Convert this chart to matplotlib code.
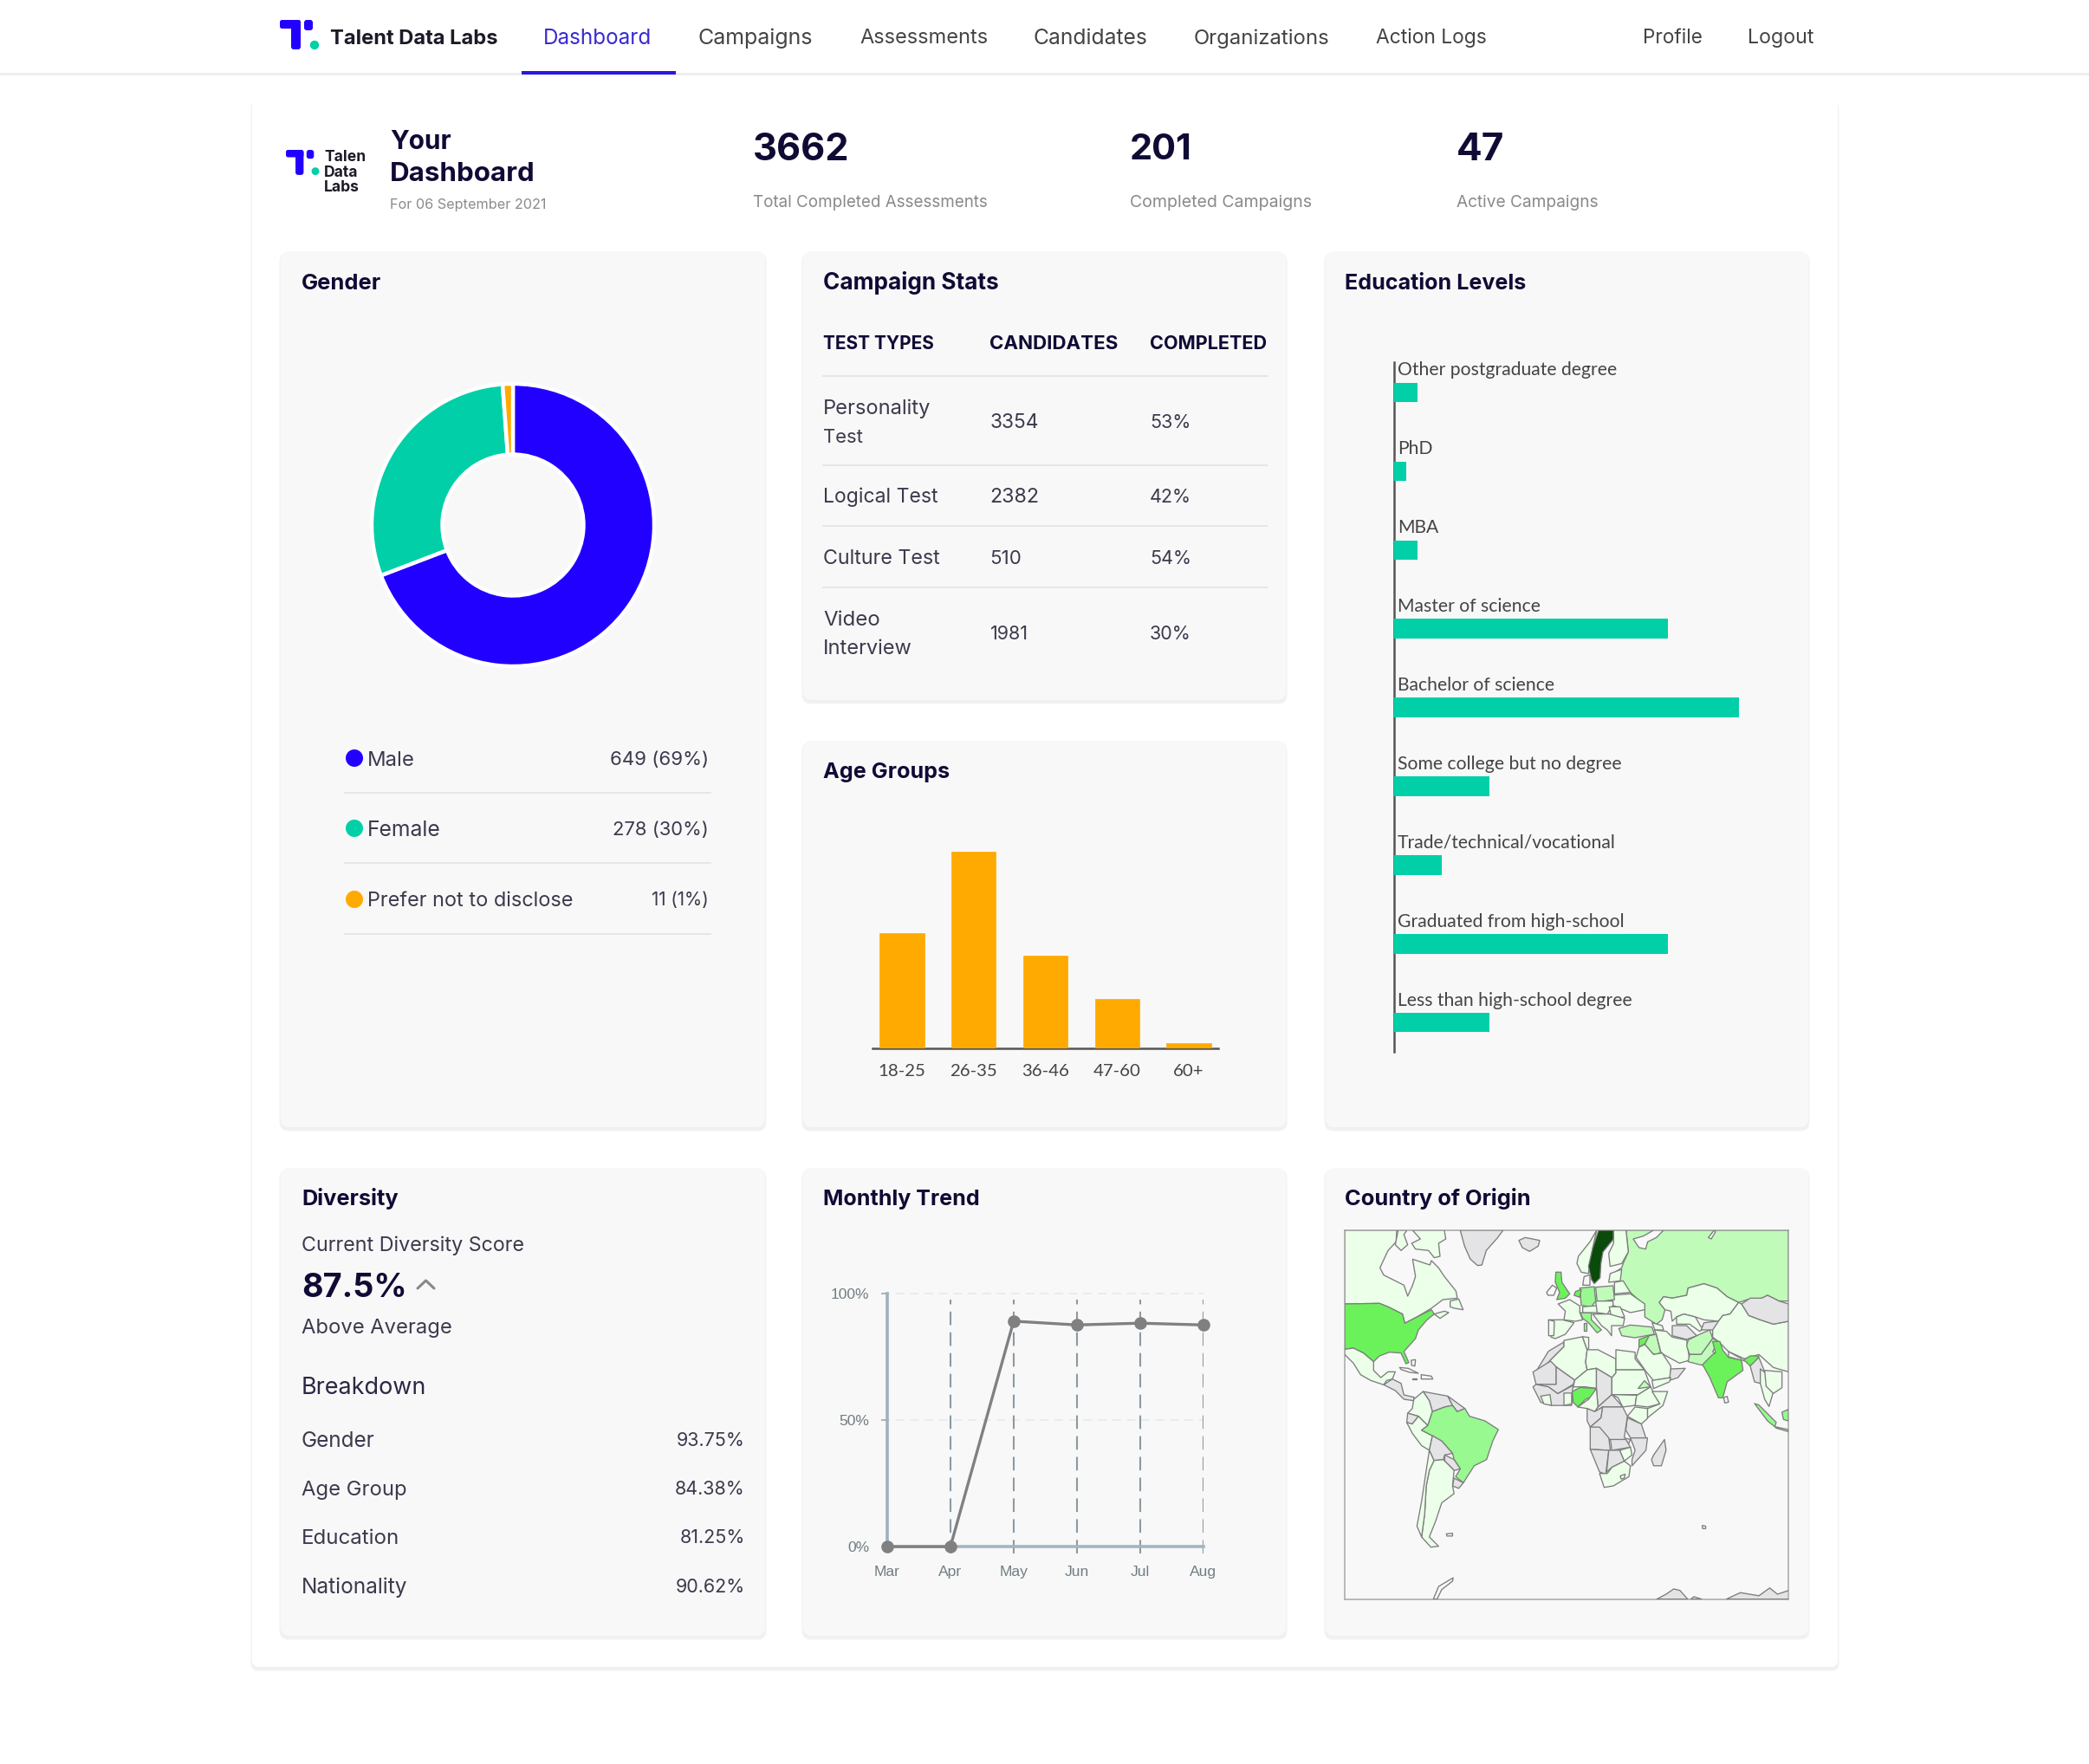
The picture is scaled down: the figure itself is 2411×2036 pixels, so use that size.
import matplotlib
matplotlib.use('Agg')
import matplotlib.pyplot as plt
from matplotlib.patches import FancyBboxPatch, Circle, Polygon, Rectangle

W, H = 2411, 2036
UI = ['Inter', 'Open Sans', 'DejaVu Sans']
GILL = ['Lato', 'DejaVu Sans']
INK = '#100b35'
BODY = '#3b3a4d'
MUTED = '#8a8a8a'
BLUE = '#2200ff'
TEAL = '#00cfa8'
ORANGE = '#ffaa00'
PANEL = '#f8f8f8'

# ---------- data ----------
nav_items = ['Campaigns', 'Assessments', 'Candidates', 'Organizations', 'Action Logs', 'Profile', 'Logout']
nav_x = [806, 992, 1193, 1378, 1588, 1896, 2017]
nav_w = [134, 149, 132, 158, 129, 69, 77]

kpi_values = ['3662', '201', '47']
kpi_labels = ['Total Completed Assessments', 'Completed Campaigns', 'Active Campaigns']

gender_labels = ['Male', 'Female', 'Prefer not to disclose']
gender_values = [649, 278, 11]
gender_text = ['649 (69%)', '278 (30%)', '11 (1%)']
gender_colors = [BLUE, TEAL, ORANGE]

table_header = ['TEST TYPES', 'CANDIDATES', 'COMPLETED']
table_tests = [['Personality', 'Test'], ['Logical Test'], ['Culture Test'], ['Video', 'Interview']]
table_candidates = ['3354', '2382', '510', '1981']
table_completed = ['53%', '42%', '54%', '30%']

age_groups = ['18-25', '26-35', '36-46', '47-60', '60+']
age_counts = [21, 36, 17, 9, 1]

edu_levels = ['Other postgraduate degree', 'PhD', 'MBA', 'Master of science', 'Bachelor of science',
              'Some college but no degree', 'Trade/technical/vocational', 'Graduated from high-school',
              'Less than high-school degree']
edu_counts = [2, 1, 2, 23, 29, 8, 4, 23, 8]

diversity_names = ['Gender', 'Age Group', 'Education', 'Nationality']
diversity_scores = ['93.75%', '84.38%', '81.25%', '90.62%']

months = ['Mar', 'Apr', 'May', 'Jun', 'Jul', 'Aug']
monthly_pct = [0, 0, 89, 87.5, 88.2, 87.5]

# ---------- map outlines (three tracing frames) ----------
LIGHT, PALE, MIDL, STRONG, DARK, GREY, SEA = '#ebffe9', '#c0fbb9', '#97f98f', '#6bf25b', '#0a4a0a', '#e4e4e6', PANEL

# frame A: west
canada = [(0,0),(180,0),(178,40),(150,70),(122,130),(135,155),(205,190),(218,228),(235,190),(245,160),(235,100),(295,120),(300,105),(325,130),(345,160),(385,210),(390,235),(340,240),(300,270),(250,300),(208,322),(200,290),(150,265),(120,253),(0,255)]
baffin = [(235,0),(345,0),(350,30),(325,45),(330,90),(310,95),(290,70),(245,65),(232,45),(262,30)]
arctic_isl = [(185,0),(215,0),(205,15),(218,50),(195,70),(175,50)]
newfoundland = [(365,245),(395,238),(410,275),(380,270),(365,265)]
nova_scotia = [(310,290),(345,280),(360,285),(330,305)]
greenland = [(400,0),(548,0),(530,25),(490,70),(475,120),(460,122),(435,100),(415,55)]
iceland = [(603,35),(625,25),(675,35),(670,55),(640,73),(615,60)]
usa = [(0,255),(120,253),(150,265),(200,290),(208,322),(250,300),(300,275),(310,290),(285,310),(255,345),(245,375),(218,405),(205,420),(222,458),(212,462),(195,425),(155,422),(120,435),(100,455),(65,425),(30,408),(0,412)]
mexico = [(0,412),(30,408),(65,425),(100,455),(100,485),(125,510),(150,490),(175,490),(165,515),(145,520),(135,535),(90,520),(55,500),(30,460),(0,430)]
central_am = [(135,535),(165,515),(195,530),(205,570),(240,578),(238,590),(205,585),(175,555),(145,540)]
cuba = [(190,475),(220,478),(255,495),(225,492),(195,482)]
hispaniola = [(265,500),(300,505),(305,515),(265,515)]
jamaica = [(235,512),(250,512),(250,517),(235,517)]
bahamas = [(230,450),(245,448),(243,470),(232,468)]

# frame B: east
norway = [(188,0),(175,60),(163,125),(160,150),(135,145),(120,115),(125,90),(165,40)]
sweden = [(195,0),(247,0),(247,30),(210,75),(203,115),(200,165),(180,185),(170,170),(160,125),(175,60)]
finland = [(247,0),(290,0),(298,75),(275,115),(235,125),(230,80),(247,45)]
russia = [(290,0),(852,0),(852,245),(820,245),(780,225),(760,235),(710,240),(680,250),(640,230),(605,200),(560,185),(505,200),(500,225),(450,235),(420,230),(405,250),(425,275),(415,310),(395,325),(355,300),(355,260),(310,220),(270,175),(245,150),(275,130),(280,115),(298,75)]
white_sea = [(315,30),(350,20),(385,0),(420,0),(395,25),(365,40),(358,65),(335,60)]
novaya = [(575,25),(595,0),(600,5),(585,30)]
baltics = [(235,150),(275,135),(270,175),(230,180)]
belarus = [(250,180),(280,175),(305,215),(250,220)]
ukraine = [(240,225),(305,220),(355,255),(355,275),(305,285),(245,260)]
poland = [(185,197),(245,192),(250,240),(190,248)]
germany = [(130,200),(180,195),(185,245),(170,265),(135,260)]
benelux = [(115,212),(135,205),(130,232),(110,225)]
denmark = [(145,160),(165,155),(165,190),(140,190)]
uk = [(47,145),(65,145),(68,180),(95,220),(80,235),(50,240),(60,215),(45,180)]
ireland = [(15,215),(35,190),(50,200),(40,225),(20,225)]
france = [(55,255),(95,240),(130,262),(130,285),(140,310),(115,315),(75,310),(80,280)]
spain = [(22,310),(70,310),(110,320),(80,360),(45,375),(30,370)]
portugal = [(22,310),(42,315),(40,365),(22,365)]
italy = [(132,285),(170,285),(170,310),(205,345),(190,355),(160,320),(140,305)]
sardinia = [(145,320),(152,320),(152,348),(145,348)]
alpine = [(140,265),(200,260),(205,285),(140,285)]
czech_hun = [(185,245),(245,245),(245,260),(225,290),(190,285)]
romania = [(232,265),(270,265),(285,300),(240,305)]
balkans = [(175,290),(232,290),(285,305),(280,330),(240,330),(240,365),(225,345),(205,330)]
turkey = [(265,340),(305,328),(380,335),(388,360),(320,372),(275,365)]
caucasus = [(380,320),(415,330),(420,345),(390,345)]
syria = [(335,378),(370,365),(360,390),(335,405)]
iraq = [(370,365),(395,360),(410,425),(385,430),(355,395)]
iran = [(388,345),(430,350),(450,370),(500,380),(510,450),(475,460),(420,430),(410,420),(395,360)]
saudi = [(335,405),(355,395),(385,430),(415,425),(445,470),(445,510),(385,520),(360,490),(325,440)]
oman = [(445,480),(495,478),(470,510),(440,520)]
yemen = [(380,520),(445,510),(440,525),(385,548)]
kazakhstan = [(405,250),(420,230),(450,235),(500,225),(505,200),(560,185),(605,200),(640,230),(680,250),(650,290),(625,295),(610,315),(560,310),(530,300),(490,290),(465,300),(450,315),(445,280),(425,275)]
turkmenistan = [(450,330),(500,330),(535,365),(500,378),(450,365)]
uzbekistan = [(465,300),(490,290),(530,300),(550,335),(580,325),(545,350),(510,325),(465,325)]
tajik_kyrgyz = [(560,320),(630,312),(590,345),(550,345)]
afghanistan = [(505,380),(545,360),(580,345),(590,375),(565,410),(550,430),(510,430),(500,400)]
pakistan = [(510,430),(550,430),(590,375),(610,385),(590,420),(600,430),(565,470),(505,455)]
china = [(680,250),(690,255),(715,295),(755,310),(800,325),(852,315),(852,490),(800,475),(750,430),(700,445),(645,420),(610,385),(590,370),(590,345),(610,315),(625,295),(650,290)]
mongolia = [(690,255),(720,235),(760,235),(780,225),(820,245),(852,255),(852,315),(800,325),(755,310),(715,295)]
india = [(590,385),(615,385),(625,415),(645,440),(690,450),(695,485),(660,510),(640,525),(625,580),(610,580),(580,510),(555,465),(590,430),(600,425)]
sri_lanka = [(628,580),(640,575),(645,595),(632,598)]
nepal = [(645,420),(690,445),(690,450),(645,438)]
bangladesh = [(695,450),(720,435),(750,435),(740,455),(720,470),(705,455)]
myanmar = [(720,470),(750,440),(770,490),(755,530),(735,525)]
thailand = [(755,480),(780,500),(800,560),(785,610),(770,585),(755,530)]
indochina = [(770,485),(830,490),(830,545),(800,565),(775,540)]
sumatra = [(735,600),(750,605),(810,665),(805,680),(780,660)]
java = [(805,680),(852,690),(852,697),(810,685)]
borneo = [(830,630),(852,620),(852,660),(835,655)]

# frame C: south
morocco = [(680,680),(720,615),(770,585),(770,600),(725,645),(690,680)]
mauritania = [(670,682),(730,645),(745,665),(745,722),(680,722)]
mali = [(745,665),(805,708),(800,722),(750,752),(720,730),(680,722),(745,722)]
algeria = [(725,645),(770,600),(770,580),(830,568),(845,610),(840,650),(845,675),(805,708),(745,665)]
tunisia = [(830,568),(850,570),(850,605),(845,610)]
libya = [(845,610),(880,610),(938,640),(938,685),(925,700),(875,670),(845,675),(840,650)]
egypt = [(938,610),(1000,618),(1000,640),(1030,675),(938,675)]
niger = [(805,708),(845,675),(875,670),(875,735),(840,730),(800,730)]
chad = [(875,670),(925,700),(925,755),(880,795),(875,735)]
sudan = [(938,675),(1030,675),(1050,730),(1010,755),(925,755),(925,700),(938,685)]
s_sudan = [(925,755),(1005,757),(1000,790),(960,795),(945,765)]
ethiopia = [(1010,755),(1050,730),(1080,785),(1040,795),(1000,790),(1005,757)]
somalia = [(1055,745),(1105,745),(1090,790),(1040,830),(1040,800),(1080,785)]
kenya = [(1000,795),(1040,800),(1040,832),(1020,850),(975,825)]
tanzania = [(975,830),(1020,850),(1035,895),(985,895),(970,870)]
eritrea = [(1010,735),(1030,710),(1050,730)]
nigeria = [(797,745),(822,732),(872,735),(865,760),(840,770),(815,795),(800,780)]
west_africa = [(680,722),(720,730),(750,752),(800,725),(797,745),(795,790),(730,790),(695,780),(670,730)]
guinea = [(695,760),(725,755),(730,790),(705,785)]
ghana = [(770,750),(795,750),(795,785),(770,790)]
cameroon = [(815,795),(850,770),(875,735),(880,795),(870,810),(845,800)]
car = [(880,795),(925,755),(960,795),(895,795),(870,810)]
gabon = [(845,800),(870,810),(895,795),(890,830),(855,860),(845,840)]
drc = [(895,795),(960,795),(975,825),(965,895),(985,900),(970,935),(920,900),(860,890),(855,860),(890,830)]
angola = [(855,860),(885,860),(915,895),(920,935),(855,932)]
zambia = [(920,900),(970,900),(985,925),(925,935)]
mozambique = [(985,895),(1040,895),(1035,935),(990,985),(990,965),(1000,935)]
zimbabwe = [(950,935),(985,925),(990,950),(965,970)]
namibia = [(855,932),(915,935),(905,1012),(885,1005)]
botswana = [(915,935),(950,935),(965,970),(925,990),(908,1005)]
s_africa = [(885,1010),(910,1010),(925,990),(965,970),(985,985),(980,1020),(930,1050),(900,1055)]
lesotho = [(952,1018),(968,1012),(965,1025),(955,1028)]
madagascar = [(1060,950),(1095,900),(1100,935),(1085,985),(1060,985),(1053,965)]
venezuela = [(315,745),(395,760),(410,790),(385,795),(345,810),(335,775)]
guianas = [(395,760),(450,800),(425,810),(410,790)]
colombia = [(285,770),(315,745),(335,775),(345,810),(330,855),(300,825),(265,815),(280,800)]
ecuador = [(265,815),(300,825),(280,850),(262,845)]
peru = [(262,845),(280,850),(300,825),(330,855),(310,870),(345,888),(335,935),(310,920),(280,880)]
brazil = [(310,870),(330,855),(345,810),(385,795),(410,790),(425,810),(450,800),(465,825),(515,840),(558,868),(540,905),(520,965),(480,985),(445,1040),(420,1020),(435,995),(415,965),(410,945),(375,905),(345,888)]
bolivia = [(345,888),(375,905),(410,945),(385,950),(380,965),(350,968),(335,935)]
paraguay = [(385,950),(415,965),(435,995),(415,1000),(385,970)]
uruguay = [(415,1025),(445,1040),(430,1058),(410,1050)]
argentina = [(350,968),(380,965),(415,1000),(410,1050),(415,1075),(375,1105),(355,1165),(335,1215),(365,1245),(340,1248),(310,1215),(320,1140),(325,1050),(335,1000)]
chile = [(335,935),(350,968),(335,1000),(325,1050),(320,1140),(310,1215),(295,1180),(310,1100),(325,1000)]
falklands = [(390,1205),(410,1203),(410,1212),(392,1212)]
antarctic_pen = [(348,1416),(365,1375),(412,1347),(410,1358),(375,1385),(360,1416)]
antarctica_a = [(1070,1416),(1100,1400),(1125,1383),(1145,1388),(1170,1416)]
antarctica_b = [(1180,1416),(1190,1408),(1215,1416)]
antarctica_c = [(1295,1416),(1340,1395),(1400,1405),(1435,1380),(1460,1400),(1496,1388),(1496,1416)]
kerguelen = [(1217,1178),(1228,1180),(1228,1188),(1218,1188)]

west_map = [(canada,LIGHT),(baffin,LIGHT),(arctic_isl,LIGHT),(newfoundland,LIGHT),(nova_scotia,LIGHT),(greenland,GREY),(iceland,GREY),
            (usa,STRONG),(mexico,LIGHT),(central_am,GREY),(cuba,SEA),(hispaniola,SEA),(jamaica,SEA),(bahamas,SEA)]
east_map = [(russia,PALE),(white_sea,SEA),(novaya,SEA),(norway,LIGHT),(sweden,DARK),(finland,LIGHT),(baltics,LIGHT),(belarus,LIGHT),(ukraine,LIGHT),
            (poland,PALE),(germany,MIDL),(benelux,STRONG),(denmark,SEA),(uk,STRONG),(ireland,SEA),(france,LIGHT),(spain,LIGHT),(portugal,LIGHT),
            (italy,MIDL),(sardinia,MIDL),(alpine,LIGHT),(czech_hun,LIGHT),(romania,LIGHT),(balkans,LIGHT),(turkey,PALE),(caucasus,LIGHT),(syria,STRONG),(iraq,PALE),
            (iran,LIGHT),(saudi,LIGHT),(oman,GREY),(yemen,LIGHT),(kazakhstan,LIGHT),(turkmenistan,GREY),(uzbekistan,LIGHT),(tajik_kyrgyz,GREY),
            (afghanistan,PALE),(pakistan,PALE),(china,LIGHT),(mongolia,GREY),(india,STRONG),(sri_lanka,SEA),(nepal,LIGHT),(bangladesh,STRONG),
            (myanmar,GREY),(thailand,LIGHT),(indochina,LIGHT),(sumatra,MIDL),(java,MIDL),(borneo,MIDL)]
south_map = [(morocco,GREY),(mauritania,GREY),(mali,GREY),(algeria,LIGHT),(tunisia,LIGHT),(libya,LIGHT),(egypt,LIGHT),(niger,LIGHT),(chad,GREY),(sudan,LIGHT),
             (s_sudan,LIGHT),(ethiopia,LIGHT),(somalia,LIGHT),(kenya,LIGHT),(tanzania,GREY),(eritrea,PALE),(west_africa,GREY),(guinea,LIGHT),(ghana,LIGHT),(nigeria,STRONG),
             (cameroon,LIGHT),(car,GREY),(gabon,GREY),(drc,GREY),(angola,GREY),(zambia,GREY),(mozambique,GREY),(zimbabwe,LIGHT),(namibia,GREY),(botswana,GREY),
             (s_africa,LIGHT),(lesotho,SEA),(madagascar,GREY),(venezuela,GREY),(guianas,GREY),(colombia,LIGHT),(ecuador,GREY),(peru,LIGHT),(brazil,MIDL),
             (bolivia,GREY),(paraguay,GREY),(uruguay,GREY),(argentina,LIGHT),(chile,LIGHT),(falklands,SEA),(antarctic_pen,SEA),(antarctica_a,GREY),
             (antarctica_b,GREY),(antarctica_c,GREY),(kerguelen,SEA)]

# ---------- page ----------
fig = plt.figure(figsize=(W / 100, H / 100), dpi=100, facecolor='white')
page = fig.add_axes([0, 0, 1, 1], zorder=0)
page.set_xlim(0, W)
page.set_ylim(H, 0)
page.axis('off')
R = fig.canvas.get_renderer()


def box_axes(x0, y0, x1, y1, **kw):
    return fig.add_axes([x0 / W, 1 - y1 / H, (x1 - x0) / W, (y1 - y0) / H], zorder=2, facecolor='none', **kw)


def put(x, y, s, w=None, px=None, weight='normal', color=BODY, ha='left', family=UI):
    t = page.text(x, y, s, fontsize=10, fontweight=weight, color=color, ha=ha, va='baseline', family=family, zorder=6)
    if w is not None:
        fs = 10 * w / t.get_window_extent(R).width
    else:
        fs = px * 0.72
    t.set_fontsize(fs)
    t.set_y(y + 0.36 * fs / 0.72)
    return t


def card(x0, y0, x1, y1, face=PANEL, r=10, z=2):
    page.add_patch(FancyBboxPatch((x0 - 1, y0 + 2), x1 - x0 + 2, y1 - y0 + 2, boxstyle=f'round,pad=0,rounding_size={r}',
                                  fc='#f0f0f0', ec='#f5f5f5', lw=1, zorder=z - 0.5))
    page.add_patch(FancyBboxPatch((x0, y0), x1 - x0, y1 - y0, boxstyle=f'round,pad=0,rounding_size={r}',
                                  fc=face, ec='none', zorder=z))


def rbar(x, y, w, h, c, r=2.5, z=6):
    page.add_patch(FancyBboxPatch((x, y), w, h, boxstyle=f'round,pad=0,rounding_size={r}', fc=c, ec='none', zorder=z))


def logo(x, y, s):
    rbar(x, y, 24 * s, 10 * s, BLUE)
    rbar(x + 13 * s, y, 11 * s, 34 * s, BLUE, r=3)
    rbar(x + 28 * s, y, 10 * s, 12 * s, BLUE, r=3)
    page.add_patch(Circle((x + 40 * s, y + 29 * s), 5.2 * s, fc=TEAL, ec='none', zorder=6))


# header
page.add_patch(Rectangle((0, 84), W, 3, fc='#eeeeee', ec='none', zorder=1))
page.add_patch(Rectangle((602, 82), 178, 3.5, fc='#2a17e0', ec='none', zorder=3))
logo(323, 23, 1.0)
put(381, 42, 'Talent Data Labs', w=194, weight='bold', color='#1c1c28')
put(627, 42, 'Dashboard', w=126, color='#3a2bd0')
for s, x, w in zip(nav_items, nav_x, nav_w):
    put(x, 42, s, w=w, color='#444444')

# outer card
card(291, 115, 2121, 1924, face='white', r=8, z=1)

# title strip
logo(330, 173, 0.85)
for s, y in zip(['Talent', 'Data', 'Labs'], [180, 198, 215]):
    t = put(374, y, s, px=17.5, weight='bold', color='#1c1c28')
    t.set_clip_path(Rectangle((0, 0), 421, H - 100, transform=None))
    t.set_clip_on(True)
put(450, 161, 'Your', w=71, weight='bold', color=INK)
put(450, 198, 'Dashboard', w=168, weight='bold', color=INK)
put(450, 235, 'For 06 September 2021', w=181, color=MUTED)
for s, lab, x, vw, lw_ in zip(kpi_values, kpi_labels, [869, 1304, 1681], [111, 72, 55], [271, 211, 165]):
    put(x, 169, s, w=vw, weight='bold', color=INK)
    put(x, 232, lab, w=lw_, color=MUTED)

# panels
for x0, y0, x1, y1 in [(324, 290, 883, 1301), (927, 290, 1484, 808), (927, 855, 1484, 1301), (1530, 290, 2087, 1301),
                       (324, 1348, 883, 1888), (927, 1348, 1484, 1888), (1530, 1348, 2087, 1888)]:
    card(x0, y0, x1, y1)
for s, x, y, w in [('Gender', 348, 324.5, 92), ('Campaign Stats', 950, 324.5, 203), ('Education Levels', 1552, 324.5, 209),
                   ('Age Groups', 950, 889, 146), ('Diversity', 348, 1382, 112), ('Monthly Trend', 950, 1382, 180),
                   ('Country of Origin', 1552, 1382, 215)]:
    put(x, y, s, w=w, weight='bold', color=INK)

# gender donut
don = box_axes(592 - 163, 606 - 163, 592 + 163, 606 + 163)
don.pie(gender_values, colors=gender_colors, startangle=90, counterclock=False, radius=1,
        wedgeprops=dict(width=0.5, edgecolor='white', linewidth=3.2))
don.set_xlim(-1, 1)
don.set_ylim(-1, 1)
for i, (lab, txt, c) in enumerate(zip(gender_labels, gender_text, gender_colors)):
    y = [875, 956, 1038][i]
    page.add_patch(Circle((409, y), 10, fc=c, ec='none', zorder=6))
    put(424, y, lab, w=[55, 85, 238][i])
    put(818, y, txt, w=[115, 111, 66][i], ha='right')
    page.plot([398, 820], [y + 40, y + 40], color='#e6e6e6', lw=1.4, zorder=4)

# campaign table
for s, x, w in zip(table_header, [950, 1142.5, 1327], [128, 148, 135]):
    put(x, 395, s, w=w, weight='bold', color=INK)
for y in [434, 537, 607, 678]:
    page.plot([950, 1462], [y, y], color='#e6e6e6', lw=1.4, zorder=4)
row_y = [486, 572, 643, 730]
test_w = [[125, 46], [133], [135], [66, 103]]
cand_w = [57, 57, 37, 44]
for i in range(4):
    lines = table_tests[i]
    ys = [row_y[i]] if len(lines) == 1 else [row_y[i] - 17, row_y[i] + 17]
    for s, yy, w in zip(lines, ys, test_w[i]):
        put(950, yy, s, w=w)
    put(1142.5, row_y[i], table_candidates[i], w=cand_w[i])
    put(1327, row_y[i], table_completed[i], px=21.5)

# age groups
age = box_axes(1007, 1210 - 227.2, 1406, 1210)
age.bar(range(len(age_counts)), age_counts, width=0.62, color=ORANGE, edgecolor=ORANGE, linewidth=0.5, zorder=3)
age.set_xlim(-0.41, 4.41)
age.set_ylim(0, 36)
age.set_yticks([])
age.set_xticks(range(5))
age.set_xticklabels(age_groups, family=GILL, fontsize=14.7, color='#444444')
age.tick_params(axis='x', length=0, pad=13)
for k in ['top', 'left', 'right']:
    age.spines[k].set_visible(False)
age.spines['bottom'].set_color('#555555')
age.spines['bottom'].set_linewidth(1.8)

# education levels
bar_px = 13.72
edu = box_axes(1609, 418, 1609 + bar_px * 29, 1214)
edu.barh(range(len(edu_counts)), edu_counts, height=0.2475, color=TEAL, zorder=3)
edu.set_xlim(0, 29)
edu.set_ylim((1214 - 453) / 90.9, (418 - 453) / 90.9)
edu.set_xticks([])
edu.set_yticks([])
for k in ['top', 'bottom', 'right']:
    edu.spines[k].set_visible(False)
edu.spines['left'].set_color('#555555')
edu.spines['left'].set_linewidth(1.8)
for i, s in enumerate(edu_levels):
    edu.text(0.3, i - 0.215, s, family=GILL, fontsize=15.2, color='#444444', va='baseline', ha='left', clip_on=False)

# diversity
put(348, 1436, 'Current Diversity Score', w=258)
put(348, 1483, '87.5%', w=121, weight='bold', color=INK)
page.plot([482, 491.5, 501], [1487, 1478, 1487], color='#888888', lw=2.2, zorder=6, solid_capstyle='round')
put(348, 1530, 'Above Average', w=174)
put(348, 1599, 'Breakdown', w=145, color='#2a2845')
for s, v, y, w in zip(diversity_names, diversity_scores, [1661, 1717, 1773, 1830], [85, 122, 114, 123]):
    put(348, y, s, w=w)
    put(860, y, v, px=21.5, ha='right')

# monthly trend
lo = -2.7
tr = box_axes(1024, 1492.7, 1388.7, 1793)
tr.set_xlim(0, 5)
tr.set_ylim(lo, 100)
for k in tr.spines:
    tr.spines[k].set_visible(False)
tr.hlines([50, 100], -0.1, 5, color='#e6e9ea', lw=1.2, linestyles=(0, (6, 4)), zorder=1, clip_on=False)
tr.hlines([50, 100], -0.1, 0, color='#9aa9b2', lw=1.2, zorder=2, clip_on=False)
tr.vlines(range(1, 6), lo, 97.5, color='#8b9aa3', lw=1.5, linestyles=(0, (7.5, 4)), zorder=2)
tr.plot([0, 0], [0, 100], color='#9fb0ba', lw=2.6, zorder=2, clip_on=False)
tr.plot([0, 5], [0, 0], color='#a3b5c0', lw=2.6, zorder=2, clip_on=False)
tr.plot(range(6), monthly_pct, color='#808080', lw=2.4, marker='o', ms=9.5, mfc='#808080', mec='#808080', zorder=4, clip_on=False)
tr.set_xticks(range(6))
tr.set_xticklabels(months, family='Liberation Sans', fontsize=12.6, color='#6f7d82')
tr.set_yticks([0, 50, 100])
tr.set_yticklabels(['0%', '50%', '100%'], family='Liberation Sans', fontsize=12.6, color='#6f7d82')
tr.tick_params(axis='both', length=0)
tr.tick_params(axis='x', pad=10)
tr.tick_params(axis='y', pad=15)

# country of origin
mp = box_axes(1552.5, 1420, 2064, 1845.7)
mp.set_facecolor(PANEL)
mp.set_xlim(1552.5, 2064)
mp.set_ylim(1845.7, 1420)
mp.set_xticks([])
mp.set_yticks([])
for k in mp.spines:
    mp.spines[k].set_color('#adadad')
    mp.spines[k].set_linewidth(1.2)


def draw_group(group, ox, oy, scale):
    for pts, c in group:
        mp.add_patch(Polygon([(ox + x / scale, oy + y / scale) for x, y in pts], closed=True, fc=c, ec='#7d7d7d',
                             lw=0.95, joinstyle='round', zorder=3))


draw_group(west_map, 1552, 1420, 3)
draw_group(south_map, 1530, 1340, 2.8)
draw_group(east_map, 1780, 1420, 3)

fig.savefig('out.png', dpi=100, facecolor='white')
